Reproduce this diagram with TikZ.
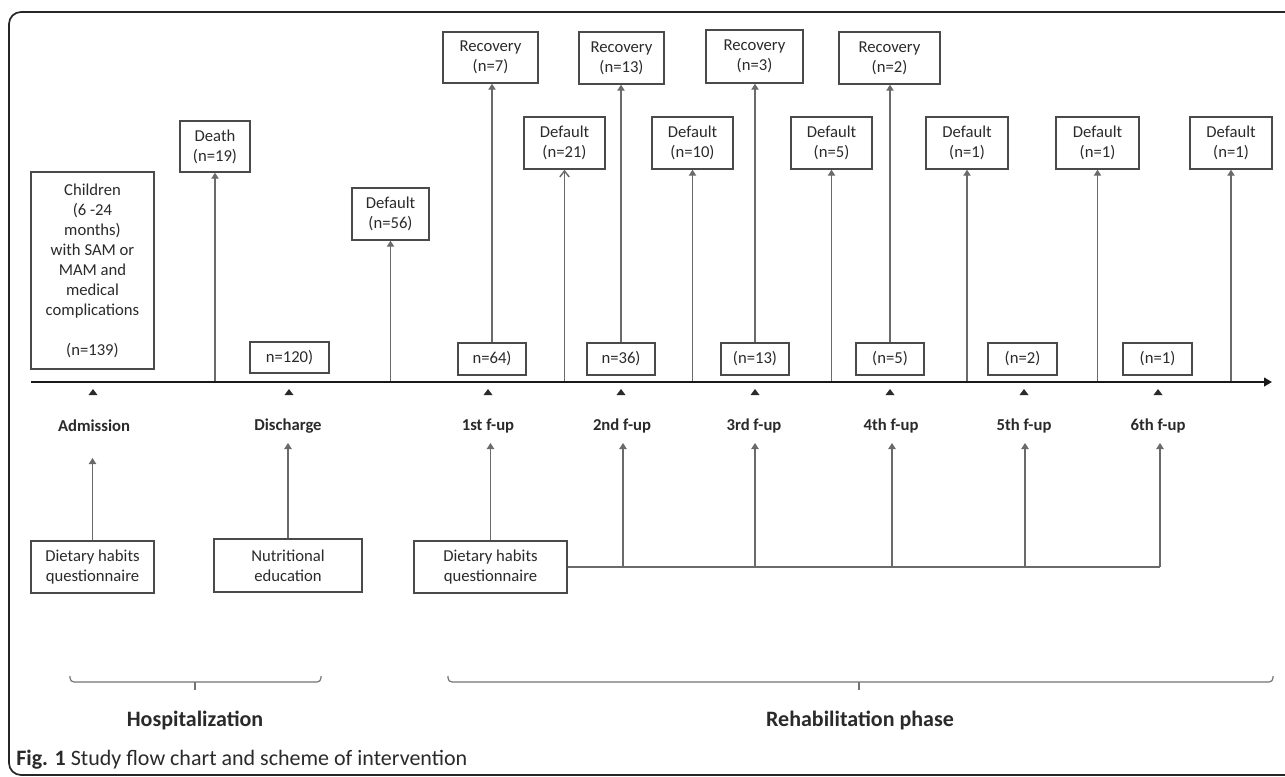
\documentclass[tikz,border=0pt]{standalone}
\usepackage{fontspec}
\setmainfont{Carlito}
\usetikzlibrary{arrows.meta}
\definecolor{bordc}{HTML}{4A4A4A}
\definecolor{linec}{HTML}{6A6A6A}
\definecolor{txtc}{HTML}{2A2A2A}
\tikzset{
  box/.style={draw=bordc, line width=1.1pt, inner sep=0pt, align=center,
    font=\fontsize{12.5}{15}\selectfont, text=txtc},
  arr/.style={draw=linec, line width=1.1pt, -{Triangle[width=5.5pt,length=4.5pt]}},
  openarr/.style={draw=linec, line width=1.1pt, -{Straight Barb[width=7pt,length=4.5pt]}},
  plain/.style={draw=linec, line width=1.1pt},
  lbl/.style={font=\fontsize{12.5}{15}\selectfont\bfseries, text=txtc, inner sep=0pt},
  phase/.style={font=\fontsize{16.5}{20}\selectfont\bfseries, text=txtc, inner sep=0pt},
  brk/.style={draw=black!55, line width=0.9pt},
}
\begin{document}
\begin{tikzpicture}[x=0.75pt,y=-0.75pt]
\useasboundingbox (0,0) rectangle (1285,776);
% frame (open on the right, as in the cropped figure)
\draw[line width=1.3pt, black!85, rounded corners=9pt] (1300,12) -- (9,12) -- (9,775) -- (1300,775);

% axis coordinates
\coordinate (ax0) at (31,382);
\coordinate (ax1) at (1272,382);

% top boxes
\node[box, minimum width=92.25pt, minimum height=147.75pt] (child) at (92.5,270.5)
  {Children\\(6 -24\\months)\\with SAM or\\MAM and\\medical\\complications\\\\(n=139)};
\node[box, minimum width=52.5pt, minimum height=38.25pt] (death) at (215,146.5) {Death\\(n=19)};
\node[box, minimum width=57.75pt, minimum height=39pt] (def56) at (390.5,214) {Default\\(n=56)};
\node[box, minimum width=59.25pt, minimum height=23.25pt] (n120) at (289.5,357.5) {n=120)};

\node[box, minimum width=71.25pt, minimum height=38.25pt] (rec7) at (490.5,57.5) {Recovery\\(n=7)};
\node[box, minimum width=60.75pt, minimum height=39pt] (def21) at (564.5,143) {Default\\(n=21)};
\node[box, minimum width=51pt, minimum height=24pt] (n64) at (492,359) {n=64)};

\node[box, minimum width=63.75pt, minimum height=39pt] (rec13) at (621.5,58) {Recovery\\(n=13)};
\node[box, minimum width=60.75pt, minimum height=39pt] (def10) at (692.5,143) {Default\\(n=10)};
\node[box, minimum width=51pt, minimum height=24pt] (n36) at (621,359) {n=36)};

\node[box, minimum width=72.75pt, minimum height=39.75pt] (rec3) at (754.5,56.5) {Recovery\\(n=3)};
\node[box, minimum width=60.75pt, minimum height=39pt] (def5) at (831.5,143) {Default\\(n=5)};
\node[box, minimum width=51pt, minimum height=24pt] (n13) at (755,359) {(n=13)};

\node[box, minimum width=75.75pt, minimum height=39pt] (rec2) at (889.5,58) {Recovery\\(n=2)};
\node[box, minimum width=61.5pt, minimum height=39pt] (def1a) at (967,143) {Default\\(n=1)};
\node[box, minimum width=51pt, minimum height=24pt] (n5) at (890,359) {(n=5)};

\node[box, minimum width=62.25pt, minimum height=39pt] (def1b) at (1097.5,143) {Default\\(n=1)};
\node[box, minimum width=51.75pt, minimum height=24pt] (n2) at (1022.5,359) {(n=2)};

\node[box, minimum width=61.5pt, minimum height=39pt] (def1c) at (1231,143) {Default\\(n=1)};
\node[box, minimum width=51.75pt, minimum height=24pt] (n1) at (1157.5,359) {(n=1)};

% arrows from axis to default / death boxes
\draw[arr] (death.south |- ax0) -- (death.south);
\draw[arr] (def56.south |- ax0) -- (def56.south);
\draw[openarr] (def21.south |- ax0) -- (def21.south);
\draw[arr] (def10.south |- ax0) -- (def10.south);
\draw[arr] (def5.south |- ax0) -- (def5.south);
\draw[arr] (def1a.south |- ax0) -- (def1a.south);
\draw[arr] (def1b.south |- ax0) -- (def1b.south);
\draw[arr] (def1c.south |- ax0) -- (def1c.south);

% recovery arrows
\draw[arr] (n64.north) -- (n64.north |- rec7.south);
\draw[arr] (n36.north) -- (n36.north |- rec13.south);
\draw[arr] (n13.north) -- (n13.north |- rec3.south);
\draw[arr] (n5.north) -- (n5.north |- rec2.south);

% axis
\draw[line width=2.2pt, black!90, -{Triangle[width=6.5pt,length=6pt]}] (ax0) -- (ax1);

% small triangles under the axis
\foreach \x in {93,289,488,621,755,890,1024,1158}
  \fill[txtc] (\x-4.5,395) -- (\x+4.5,395) -- (\x,389) -- cycle;

% time-point labels
\node[lbl] (adm) at (94,426) {Admission};
\node[lbl] (dis) at (288,426) {Discharge};
\node[lbl] (f1) at (488,426) {1st f-up};
\node[lbl] (f2) at (622,426) {2nd f-up};
\node[lbl] (f3) at (754,426) {3rd f-up};
\node[lbl] (f4) at (891,426) {4th f-up};
\node[lbl] (f5) at (1024,426) {5th f-up};
\node[lbl] (f6) at (1158,426) {6th f-up};

% bottom boxes
\node[box, minimum width=92.25pt, minimum height=39pt] (diet1) at (92.5,567) {Dietary habits\\questionnaire};
\node[box, minimum width=111pt, minimum height=39.75pt] (nutr) at (288,565.5) {Nutritional\\education};
\node[box, minimum width=114.75pt, minimum height=39pt] (diet2) at (490.5,567) {Dietary habits\\questionnaire};

\coordinate (u0) at (93,458);
\coordinate (uu) at (0,443);
\draw[arr] (diet1.north) -- (diet1.north |- u0);
\draw[arr] (nutr.north) -- (nutr.north |- uu);
\draw[arr] (diet2.north) -- (diet2.north |- uu);

\coordinate (j2) at (623,567);
\coordinate (j3) at (755,567);
\coordinate (j4) at (892,567);
\coordinate (j5) at (1025,567);
\coordinate (j6) at (1160,567);
\draw[plain] (diet2.east |- j2) -- (j6);
\draw[arr] (j2) -- (j2 |- uu);
\draw[arr] (j3) -- (j3 |- uu);
\draw[arr] (j4) -- (j4 |- uu);
\draw[arr] (j5) -- (j5 |- uu);
\draw[arr] (j6) -- (j6 |- uu);

% brackets
\draw[brk, rounded corners=3pt] (70,676) -- (70,682) -- (321,682) -- (321,676);
\draw[brk] (195,682) -- (195,690);
\draw[brk, rounded corners=3pt] (448,676) -- (448,682) -- (1273,682) -- (1273,676);
\draw[brk] (859,682) -- (859,690);

\node[phase] (hosp) at (195,720) {Hospitalization};
\node[phase] (rehab) at (860,720) {Rehabilitation phase};

% caption
\node[anchor=base west, inner sep=0pt, font=\fontsize{16.5}{19}\selectfont, text=txtc] (cap) at (16,765)
  {\textbf{Fig. 1} Study flow chart and scheme of intervention};
\end{tikzpicture}
\end{document}
